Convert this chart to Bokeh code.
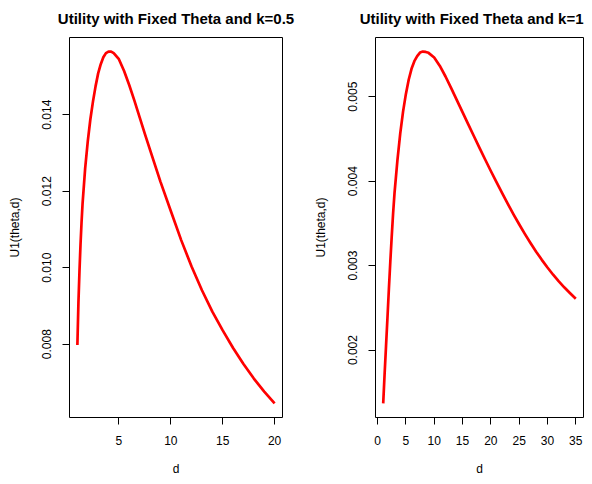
from bokeh.plotting import figure
from bokeh.models import Range1d, FixedTicker, PrintfTickFormatter
from bokeh.layouts import row
from bokeh.embed import file_html
from bokeh.resources import INLINE

# ---- data ----
d_k05 = [1.0, 1.1, 1.2, 1.3, 1.4, 1.5, 1.75, 2.0, 2.25, 2.5, 2.75, 3.0, 3.25, 3.5, 3.75,
         4.0, 4.25, 4.5, 5.0, 5.5, 6.0, 6.5, 7.0, 7.5, 8.0, 9.0, 10.0, 11.0, 12.0, 13.0,
         14.0, 15.0, 16.0, 17.0, 18.0, 19.0, 20.0]
u_k05 = [0.00798, 0.00908, 0.00990, 0.01060, 0.01118, 0.01168, 0.01260, 0.01330, 0.01388,
         0.01434, 0.01474, 0.01508, 0.01532, 0.01550, 0.01561, 0.01565, 0.01565, 0.01561,
         0.01545, 0.01514, 0.01477, 0.01436, 0.01393, 0.01350, 0.01308, 0.01225, 0.01148,
         0.01072, 0.01003, 0.00941, 0.00885, 0.00836, 0.00790, 0.00748, 0.00710, 0.00676,
         0.00645]

d_k1 = [1.0, 1.25, 1.5, 1.75, 2.0, 2.25, 2.5, 2.75, 3.0, 3.5, 4.0, 4.5, 5.0, 5.5, 6.0, 6.5,
        7.0, 7.5, 8.0, 8.5, 9.0, 10.0, 11.0, 12.0, 13.0, 14.0, 15.0, 16.0, 17.0, 18.0, 19.0,
        20.0, 21.0, 22.0, 23.0, 24.0, 25.0, 26.0, 27.0, 28.0, 29.0, 30.0, 31.0, 32.0, 33.0,
        34.0, 35.0]
u_k1 = [0.001368, 0.00172, 0.00205, 0.00238, 0.00272, 0.00304, 0.00334, 0.00362, 0.00386,
        0.00424, 0.00456, 0.00482, 0.00503, 0.00520, 0.00533, 0.00542, 0.00548, 0.005522,
        0.005534, 0.00553, 0.005519, 0.005464, 0.005364, 0.005239, 0.005101, 0.004959,
        0.004817, 0.004675, 0.004534, 0.004394, 0.004256, 0.00412, 0.003987, 0.003857,
        0.00373, 0.003607, 0.003489, 0.003376, 0.003268, 0.003165, 0.003068, 0.002977,
        0.002892, 0.002813, 0.00274, 0.002673, 0.002608]

x_ticks_k05 = [5, 10, 15, 20]
y_ticks_k05 = [0.008, 0.010, 0.012, 0.014]
x_ticks_k1 = [0, 5, 10, 15, 20, 25, 30, 35]
y_ticks_k1 = [0.002, 0.003, 0.004, 0.005]

title_k05 = "Utility with Fixed Theta and k=0.5"
title_k1 = "Utility with Fixed Theta and k=1"
x_label = "d"
y_label = "U1(theta,d)"

FONT = "Liberation Sans"


def padded(vals, frac=0.04):
    lo, hi = min(vals), max(vals)
    pad = (hi - lo) * frac
    return Range1d(lo - pad, hi + pad)


def make_panel(xs, ys, xt, yt, title, fw, border_left, border_right, title_align):
    p = figure(
        x_range=padded(xs), y_range=padded(ys),
        frame_width=fw, frame_height=380,
        min_border_left=border_left, min_border_right=border_right,
        min_border_top=37, min_border_bottom=59,
        output_backend="svg", toolbar_location=None,
        background_fill_color="white", border_fill_color="white",
    )
    p.title.text = title
    p.title.align = title_align
    p.title.vertical_align = "top"
    p.title.standoff = 18
    p.title.text_font = FONT
    p.title.text_font_style = "bold"
    p.title.text_font_size = "15px"
    p.title.text_color = "black"

    p.grid.visible = False
    p.outline_line_color = "black"
    p.outline_line_width = 1

    p.line(xs, ys, line_color="red", line_width=2.7, line_join="round")

    for ax in (p.xaxis[0], p.yaxis[0]):
        ax.axis_line_color = None
        ax.major_tick_in = 0
        ax.major_tick_out = 7
        ax.major_tick_line_color = "black"
        ax.minor_tick_line_color = None
        ax.major_label_text_font = FONT
        ax.major_label_text_font_size = "12px"
        ax.major_label_text_color = "black"
        ax.axis_label_text_font = FONT
        ax.axis_label_text_font_size = "12px"
        ax.axis_label_text_font_style = "normal"
        ax.axis_label_text_color = "black"

    p.xaxis.ticker = FixedTicker(ticks=xt)
    p.xaxis.axis_label = x_label
    p.xaxis.major_label_standoff = 11
    p.xaxis.axis_label_standoff = 14

    p.yaxis.ticker = FixedTicker(ticks=yt)
    p.yaxis.formatter = PrintfTickFormatter(format="%.3f")
    p.yaxis.major_label_orientation = "vertical"
    p.yaxis.axis_label = y_label
    p.yaxis.major_label_standoff = 11
    p.yaxis.axis_label_standoff = 18
    return p


p1 = make_panel(d_k05, u_k05, x_ticks_k05, y_ticks_k05, title_k05, 213, 69, 14, "center")
p2 = make_panel(d_k1, u_k1, x_ticks_k1, y_ticks_k1, title_k1, 208, 79, 1, "right")

layout = row(p1, p2)
open("out.html", "w").write(file_html(layout, INLINE))
